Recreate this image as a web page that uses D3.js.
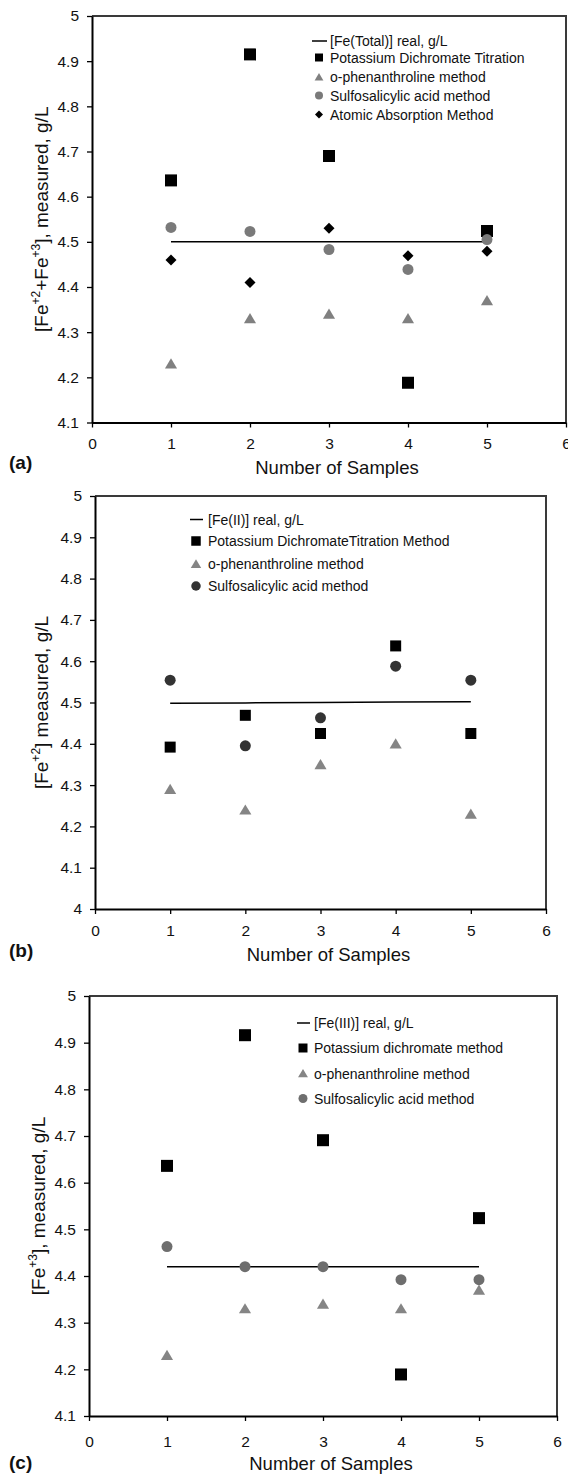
<!DOCTYPE html>
<html>
<head>
<meta charset="utf-8">
<script src="https://cdn.jsdelivr.net/npm/d3@7"></script>
<style>
  body { margin: 0; background: #fff; }
  svg { display: block; font-family: "Liberation Sans", Arial, sans-serif; }
</style>
</head>
<body>
<div id="chart"></div>
<script>
// sample numbers and axis ticks
var samples = [1, 2, 3, 4, 5];
var xTicks = [0, 1, 2, 3, 4, 5, 6];
var yTicksA = [4.1, 4.2, 4.3, 4.4, 4.5, 4.6, 4.7, 4.8, 4.9, 5];
var yTicksB = [4, 4.1, 4.2, 4.3, 4.4, 4.5, 4.6, 4.7, 4.8, 4.9, 5];
var yTicksC = [4.1, 4.2, 4.3, 4.4, 4.5, 4.6, 4.7, 4.8, 4.9, 5];

// (a) total iron
var realA = [4.5, 4.5, 4.5, 4.5, 4.5];
var dichromateA = [4.636, 4.915, 4.69, 4.188, 4.524];
var phenA = [4.23, 4.33, 4.34, 4.33, 4.37];
var sulfoA = [4.532, 4.523, 4.483, 4.439, 4.505];
var atomicA = [4.46, 4.41, 4.53, 4.469, 4.479];

// (b) Fe(II)
var realB = [4.498, 4.499, 4.5, 4.501, 4.502];
var dichromateB = [4.392, 4.469, 4.425, 4.637, 4.425];
var phenB = [4.29, 4.24, 4.35, 4.4, 4.23];
var sulfoB = [4.554, 4.395, 4.463, 4.588, 4.554];

// (c) Fe(III)
var realC = [4.42, 4.42, 4.42, 4.42, 4.42];
var dichromateC = [4.636, 4.916, 4.691, 4.189, 4.524];
var phenC = [4.23, 4.33, 4.34, 4.33, 4.37];
var sulfoC = [4.463, 4.42, 4.42, 4.392, 4.392];

var svg = d3.select("#chart").append("svg")
    .attr("width", 568)
    .attr("height", 1475);

function markerPath(type, size) {
    var h = size / 2;
    if (type == "square") return "M" + (-h) + "," + (-h) + "h" + size + "v" + size + "h" + (-size) + "Z";
    if (type == "diamond") return "M0," + (-h) + "L" + h + ",0L0," + h + "L" + (-h) + ",0Z";
    if (type == "triangle") return "M0," + (-h * 1.0) + "L" + (h * 1.1) + "," + (h * 0.85) + "L" + (-h * 1.1) + "," + (h * 0.85) + "Z";
    return d3.symbol().type(d3.symbolCircle).size(Math.PI * h * h)();
}

function drawPanel(p) {
    var x = d3.scaleLinear().domain([0, 6]).range([p.left, p.right]);
    var y = d3.scaleLinear().domain(p.yDomain).range([p.bottom, p.top]);
    var g = svg.append("g");

    // top and right border
    g.append("path")
        .attr("d", "M" + p.left + "," + p.top + "H" + p.right + "V" + p.bottom)
        .attr("fill", "none")
        .attr("stroke", "#3a3a3a")
        .attr("stroke-width", 2);

    var yAxis = d3.axisLeft(y).tickValues(p.yTicks).tickSize(5).tickPadding(8).tickSizeOuter(0)
        .tickFormat(function (d) { return String(+d.toFixed(1)); });
    var xAxis = d3.axisBottom(x).tickValues(xTicks).tickSize(5).tickPadding(p.xPad).tickSizeOuter(0)
        .tickFormat(d3.format("d"));

    var ya = g.append("g").attr("transform", "translate(" + p.left + ",0)").call(yAxis);
    var xa = g.append("g").attr("transform", "translate(0," + p.bottom + ")").call(xAxis);
    [ya, xa].forEach(function (a) {
        a.select(".domain").attr("stroke", "#000").attr("stroke-width", 2);
        a.selectAll(".tick line").attr("stroke", "#000").attr("stroke-width", 1.3);
        a.selectAll(".tick text").attr("font-size", 15.5).attr("fill", "#111")
            .attr("font-family", "Liberation Sans, Arial, sans-serif");
    });

    // real value line
    var line = d3.line().x(function (d, i) { return x(samples[i]); }).y(function (d) { return y(d); });
    g.append("path").datum(p.real)
        .attr("d", line)
        .attr("fill", "none")
        .attr("stroke", "#000")
        .attr("stroke-width", 1.5);

    // measured series
    p.series.forEach(function (s) {
        g.selectAll(null).data(s.values).enter().append("path")
            .attr("transform", function (d, i) { return "translate(" + x(samples[i]) + "," + y(d) + ")"; })
            .attr("d", markerPath(s.type, s.size))
            .attr("fill", s.color);
    });

    // legend
    var lg = g.append("g");
    lg.append("line")
        .attr("x1", p.legend.lineX[0]).attr("x2", p.legend.lineX[1])
        .attr("y1", p.legend.rows[0]).attr("y2", p.legend.rows[0])
        .attr("stroke", "#000").attr("stroke-width", 1.5);
    lg.append("text")
        .attr("x", p.legend.textX).attr("y", p.legend.rows[0] + 5)
        .attr("font-size", 14).attr("fill", "#111")
        .text(p.realLabel);
    p.series.forEach(function (s, i) {
        var ry = p.legend.rows[i + 1];
        lg.append("path")
            .attr("transform", "translate(" + p.legend.markerX + "," + ry + ")")
            .attr("d", markerPath(s.type, p.legend.markerSize))
            .attr("fill", s.color);
        lg.append("text")
            .attr("x", p.legend.textX).attr("y", ry + 5)
            .attr("font-size", 14).attr("fill", "#111")
            .text(s.label);
    });

    // y title with superscripts
    var yt = g.append("text")
        .attr("transform", "translate(" + p.yTitleX + "," + ((p.top + p.bottom) / 2) + ") rotate(-90)")
        .attr("text-anchor", "middle")
        .attr("font-size", 19)
        .attr("fill", "#111");
    p.yTitle.forEach(function (part) {
        if (part.sup) {
            yt.append("tspan").attr("dy", -8).attr("font-size", 12).text(part.t);
        } else {
            yt.append("tspan").attr("dy", part.back ? 8 : 0).text(part.t);
        }
    });

    g.append("text")
        .attr("x", (p.left + p.right) / 2 + 8)
        .attr("y", p.xTitleY + 6)
        .attr("text-anchor", "middle")
        .attr("font-size", 18.5)
        .attr("fill", "#111")
        .text("Number of Samples");

    g.append("text")
        .attr("x", 9)
        .attr("y", p.tagY + 7)
        .attr("font-size", 19)
        .attr("font-weight", "bold")
        .attr("fill", "#111")
        .text(p.tag);
}

drawPanel({
    left: 92, right: 566, top: 16, bottom: 422.5,
    yDomain: [4.1, 5], yTicks: yTicksA, xPad: 10,
    real: realA, realLabel: "[Fe(Total)] real, g/L",
    series: [
        { label: "Potassium Dichromate Titration", values: dichromateA, type: "square", size: 12, color: "#000" },
        { label: "o-phenanthroline method", values: phenA, type: "triangle", size: 11, color: "#808080" },
        { label: "Sulfosalicylic acid method", values: sulfoA, type: "circle", size: 11, color: "#7a7a7a" },
        { label: "Atomic Absorption Method", values: atomicA, type: "diamond", size: 11, color: "#000" }
    ],
    legend: { lineX: [312, 327], markerX: 319, textX: 330, markerSize: 8, rows: [41, 57.5, 77, 95.5, 114.5] },
    yTitle: [{ t: "[Fe" }, { t: "+2", sup: true }, { t: "+Fe", back: true }, { t: "+3", sup: true }, { t: "], measured, g/L", back: true }],
    yTitleX: 48, xTitleY: 468, tag: "(a)", tagY: 462
});

drawPanel({
    left: 95, right: 546, top: 496, bottom: 909,
    yDomain: [4, 5], yTicks: yTicksB, xPad: 11,
    real: realB, realLabel: "[Fe(II)] real, g/L",
    series: [
        { label: "Potassium DichromateTitration Method", values: dichromateB, type: "square", size: 11, color: "#000" },
        { label: "o-phenanthroline method", values: phenB, type: "triangle", size: 11, color: "#858585" },
        { label: "Sulfosalicylic acid method", values: sulfoB, type: "circle", size: 11, color: "#333" }
    ],
    legend: { lineX: [190, 203], markerX: 196, textX: 208, markerSize: 9.5, rows: [519.5, 541, 564, 586] },
    yTitle: [{ t: "[Fe" }, { t: "+2", sup: true }, { t: "] measured, g/L", back: true }],
    yTitleX: 48, xTitleY: 955, tag: "(b)", tagY: 950
});

drawPanel({
    left: 89, right: 557, top: 996, bottom: 1416,
    yDomain: [4.1, 5], yTicks: yTicksC, xPad: 15,
    real: realC, realLabel: "[Fe(III)] real, g/L",
    series: [
        { label: "Potassium dichromate method", values: dichromateC, type: "square", size: 12, color: "#000" },
        { label: "o-phenanthroline method", values: phenC, type: "triangle", size: 11, color: "#858585" },
        { label: "Sulfosalicylic acid method", values: sulfoC, type: "circle", size: 11, color: "#6e6e6e" }
    ],
    legend: { lineX: [297, 310], markerX: 303, textX: 314, markerSize: 9, rows: [1023, 1048, 1073.5, 1098.5] },
    yTitle: [{ t: "[Fe" }, { t: "+3", sup: true }, { t: "], measured, g/L", back: true }],
    yTitleX: 45, xTitleY: 1464, tag: "(c)", tagY: 1462
});
</script>
</body>
</html>
